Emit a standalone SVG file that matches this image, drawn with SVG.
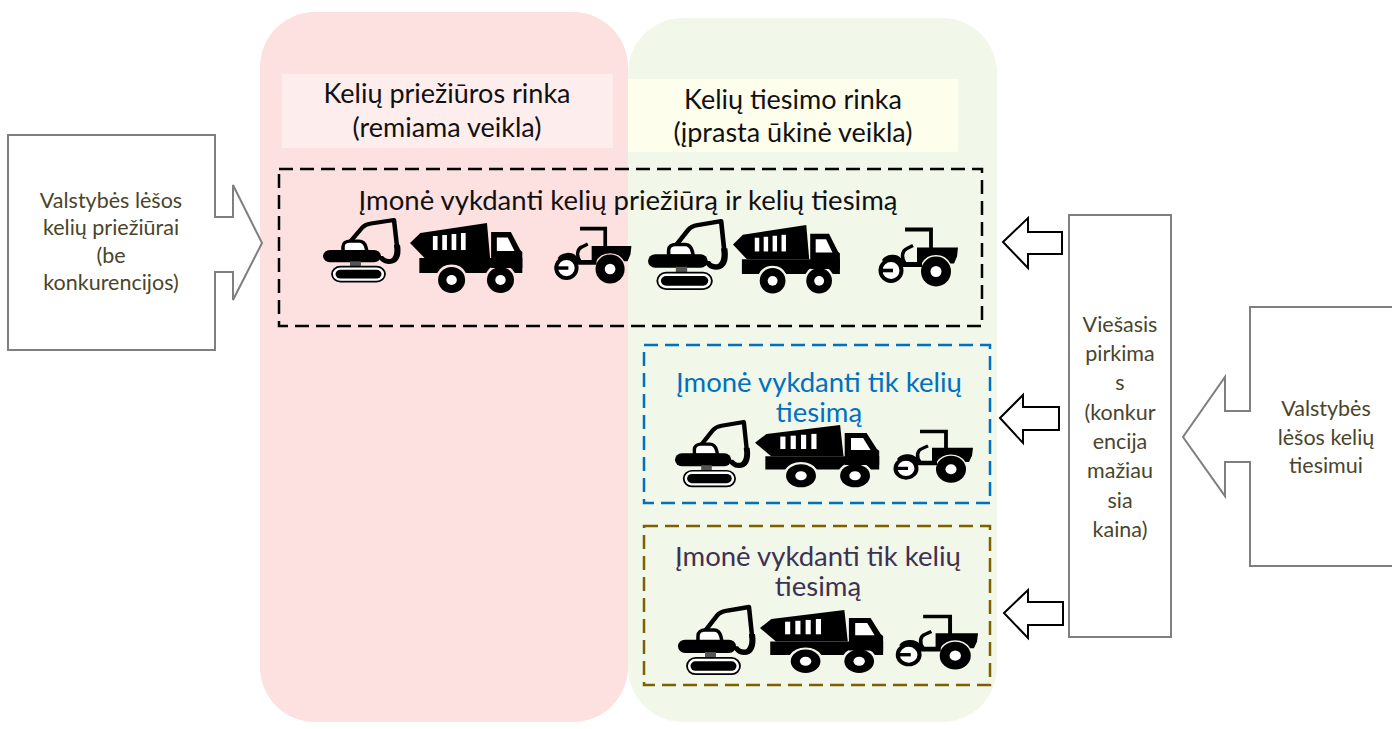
<svg xmlns="http://www.w3.org/2000/svg" width="1392" height="729" viewBox="0 0 1392 729">
<style>
  text { font-family: Lato, "Liberation Sans", sans-serif; text-anchor: middle; }
  .hdr { font-size: 27px; fill: #111; }
  .blk { font-size: 27.5px; fill: #111; }
  .blu { font-size: 27.5px; fill: #0070c0; }
  .pur { font-size: 27.5px; fill: #3f3151; }
  .side { font-size: 21.5px; fill: #4a452a; }
  .callout { fill: #fff; stroke: #7f7f7f; stroke-width: 2; }
  .dash { fill: none; stroke-width: 2.5; stroke-dasharray: 14 7; }
  .arr { fill: #fff; stroke: #000; stroke-width: 2; stroke-linejoin: miter; }
</style>
<defs>
  <g id="exc">
    <path d="M22,33 L40,9 Q43,5 49,4 L72,0 L75,30" fill="none" stroke="#000" stroke-width="4.5" stroke-linejoin="round" stroke-linecap="round"/>
    <path d="M72,28 L78,28 C80,42 76,50 67,50 C61,50 57,46 56,41 L61,41 C63,44 66,45 69,44 C72,42 73,36 72,30 Z" fill="#000"/>
    <path d="M21,36 V30 C21,26 24,24 28,24 H37 C41,24 43,27 44,31 L45,36 Z" fill="#fff" stroke="#000" stroke-width="3.5"/>
    <rect x="1" y="34" width="58" height="14" rx="7" fill="#000"/>
    <rect x="28" y="47" width="11" height="7" fill="#555"/>
    <rect x="10" y="53" width="53" height="17" rx="8.5" fill="#fff" stroke="#000" stroke-width="1.8"/>
    <rect x="13.5" y="56.5" width="46" height="10" rx="5" fill="#000"/>
  </g>
  <g id="truck">
    <path d="M0,20 L10,10 L74,0 L77,35 L14,35 Z" fill="#000"/>
    <rect x="22" y="13" width="4.5" height="14" fill="#fff"/>
    <rect x="31" y="12" width="4.5" height="15" fill="#fff"/>
    <rect x="40" y="11" width="4.5" height="16" fill="#fff"/>
    <rect x="49" y="10" width="4.5" height="17" fill="#fff"/>
    <path d="M78,9 H97 L106,27 L108,29 V45 H78 Z" fill="#000"/>
    <path d="M83.5,14.5 H94 L100.5,28 H83.5 Z" fill="#fff"/>
    <path d="M9,35 H108 V50 H100.8 A15.5,15.5 0 0 0 73.2,50 H53.8 A15.5,15.5 0 0 0 26.2,50 H9 Z" fill="#000"/>
    <circle cx="40" cy="57" r="13" fill="#000"/>
    <circle cx="87" cy="57" r="13" fill="#000"/>
    <circle cx="40" cy="57" r="5" fill="#fff"/>
    <circle cx="87" cy="57" r="5" fill="#fff"/>
  </g>
  <g id="roller">
    <path d="M33,3 H59 V24" fill="none" stroke="#000" stroke-width="3.8"/>
    <path d="M45,21 H86 L85,30 L82,37 H78.4 A16.5,16.5 0 0 0 49.6,37 H45 Z" fill="#000"/>
    <path d="M12,35 C15,30 24,29 28,34 L30,38 H50" fill="none" stroke="#000" stroke-width="5"/>
    <path d="M33,37 C29,31 30,24 35,22 L41,19" fill="none" stroke="#000" stroke-width="3.5"/>
    <circle cx="64" cy="45" r="15" fill="#000"/>
    <circle cx="64" cy="45" r="5.5" fill="#fff"/>
    <circle cx="19" cy="44" r="10.5" fill="#fff" stroke="#000" stroke-width="4"/>
    <rect x="7" y="42.2" width="14" height="3.6" fill="#000"/>
  </g>
</defs>

<g id="panel-maintenance">
  <rect x="260" y="12" width="368" height="710" rx="55" fill="#fde0e0"/>
</g>
<g id="panel-construction">
  <rect x="628" y="18" width="369" height="704" rx="55" fill="#f1f7e9"/>
</g>

<g id="label-maintenance">
  <rect x="282" y="74" width="331" height="74" fill="#fdeded"/>
  <text class="hdr" x="447" y="103">Kelių priežiūros rinka</text>
  <text class="hdr" x="447" y="137">(remiama veikla)</text>
</g>
<g id="label-construction">
  <rect x="628" y="79" width="330" height="73" fill="#fdfeec"/>
  <text class="hdr" x="793" y="109">Kelių tiesimo rinka</text>
  <text class="hdr" x="793" y="142">(įprasta ūkinė veikla)</text>
</g>

<g id="company-both">
  <rect class="dash" x="279" y="169" width="703" height="157" stroke="#000"/>
  <text class="blk" x="628" y="210">Įmonė vykdanti kelių priežiūrą ir kelių tiesimą</text>
  <use href="#exc" transform="translate(322,220) scale(1.0,0.88)"/>
  <use href="#truck" transform="translate(410,223) scale(1.04,1.0)"/>
  <use href="#roller" transform="translate(548,225.8) scale(0.97,0.96)"/>
  <use href="#exc" transform="translate(647,221.2) scale(1.03,0.97)"/>
  <use href="#truck" transform="translate(733,225) scale(0.99,0.98)"/>
  <use href="#roller" transform="translate(872,226.5) scale(1.0,1.0)"/>
</g>

<g id="company-blue">
  <rect class="dash" x="644" y="345" width="346" height="158" stroke="#0070c0"/>
  <text class="blu" x="819" y="392">Įmonė vykdanti tik kelių</text>
  <text class="blu" x="819" y="422">tiesimą</text>
  <use href="#exc" transform="translate(674,422) scale(0.97,0.92)"/>
  <use href="#truck" transform="translate(755,425) scale(1.15,0.89)"/>
  <use href="#roller" transform="translate(887,428.8) scale(1.0,0.9)"/>
</g>

<g id="company-brown">
  <rect class="dash" x="644" y="526" width="346" height="159" stroke="#7f6000"/>
  <text class="pur" x="818" y="566">Įmonė vykdanti tik kelių</text>
  <text class="pur" x="818" y="596">tiesimą</text>
  <use href="#exc" transform="translate(677,607) scale(1.0,0.96)"/>
  <use href="#truck" transform="translate(760,610) scale(1.14,0.9)"/>
  <use href="#roller" transform="translate(889,613.8) scale(1.035,0.93)"/>
</g>

<g id="funds-maintenance">
  <path class="callout" d="M8,135 H215 V217 H233 V185 L262,243 L233,300 V272 H215 V350 H8 Z"/>
  <text class="side" x="111" y="208">Valstybės lėšos</text>
  <text class="side" x="111" y="235">kelių priežiūrai</text>
  <text class="side" x="111" y="263">(be</text>
  <text class="side" x="111" y="290">konkurencijos)</text>
</g>

<g id="procurement">
  <rect class="callout" x="1069" y="215" width="102" height="422"/>
  <text class="side" x="1120" y="332">Viešasis</text>
  <text class="side" x="1120" y="361">pirkima</text>
  <text class="side" x="1120" y="390">s</text>
  <text class="side" x="1120" y="420">(konkur</text>
  <text class="side" x="1120" y="449">encija</text>
  <text class="side" x="1120" y="478">mažiau</text>
  <text class="side" x="1120" y="508">sia</text>
  <text class="side" x="1120" y="537">kaina)</text>
</g>

<g id="funds-construction">
  <path class="callout" d="M1400,307 H1250 V411 H1225 V377 L1183,437 L1225,496 V462 H1250 V566 H1400 Z"/>
  <text class="side" x="1326" y="416">Valstybės</text>
  <text class="side" x="1326" y="445">lėšos kelių</text>
  <text class="side" x="1326" y="473">tiesimui</text>
</g>

<g id="connectors">
  <path class="arr" d="M1003,242 L1028,218 V232 H1062 V254 H1028 V268 Z"/>
  <path class="arr" d="M1000,418 L1023,395 V407 H1059 V430 H1023 V443 Z"/>
  <path class="arr" d="M1004,613 L1028,590 V602 H1063 V625 H1028 V638 Z"/>
</g>
</svg>
